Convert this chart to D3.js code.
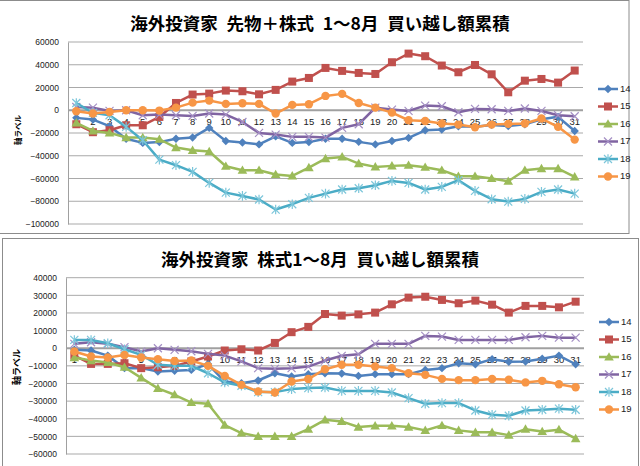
<!DOCTYPE html>
<html><head><meta charset="utf-8">
<script src="https://cdn.jsdelivr.net/npm/d3@7/dist/d3.min.js"></script>
<style>body{margin:0;background:#fff}svg{display:block}</style>
</head><body>
<svg id="c" width="640" height="466"></svg>
<script>
// ---------- data ----------
const days = d3.range(1, 32).map(String);
const seriesNames = ["14", "15", "16", "17", "18", "19"];
const seriesColors = ["#4F81BD", "#C0504D", "#9BBB59", "#8064A2", "#4BACC6", "#F79646"];
const markerColors = ["#4F81BD", "#C0504D", "#9BBB59", "#A48FC4", "#7CC6DA", "#F79646"];
const markerTypes = ["diamond", "square", "triangle", "x", "star", "circle"];

const titleTop = "海外投資家\u2002先物＋株式\u20021～8月\u2002買い越し額累積";
const titleBottom = "海外投資家\u2002株式1～8月\u2002買い越し額累積";
const axisTitle = "軸ラベル";

const ticksTop = [60000, 40000, 20000, 0, -20000, -40000, -60000, -80000, -100000];
const ticksBottom = [40000, 30000, 20000, 10000, 0, -10000, -20000, -30000, -40000, -50000, -60000];

// 先物＋株式
const top14 = [-6700,-8200,-14000,-25000,-28700,-28000,-25000,-24000,-15500,-27000,-28400,-30000,-23000,-28700,-28000,-25000,-25000,-27800,-30000,-27000,-24300,-17600,-17000,-14000,-14600,-12900,-13800,-12300,-8000,-5800,-18300];
const top15 = [-12300,-19300,-17600,-13200,-13200,-5900,6400,13800,14600,17300,16700,14000,17900,25200,28400,37200,34600,32800,31900,42200,49800,47500,39300,33400,39800,31600,15800,26000,27500,24300,34900];
const top16 = [-11100,-18200,-19900,-24000,-24000,-25500,-32800,-35200,-36300,-49200,-52700,-52700,-56500,-57700,-50400,-42500,-41000,-46900,-49800,-48900,-48300,-50100,-52700,-58000,-58000,-60000,-62400,-52700,-51300,-51300,-58600];
const top17 = [2900,2300,-600,0,-4400,-3800,-4400,-5000,-2900,-3800,-10300,-19900,-21400,-23400,-23400,-24000,-15500,-12300,2300,600,-600,4100,3500,-1800,1200,900,-600,1500,-600,-4400,-5300];
const top18 = [6400,-2300,-4400,-14600,-26400,-43400,-48300,-54200,-63900,-72400,-75300,-78500,-87300,-82600,-77000,-73300,-69700,-68600,-65900,-62100,-63900,-69700,-67400,-61500,-70900,-78200,-80300,-77900,-71800,-69700,-73300];
const top19 = [-900,-2900,-1500,0,0,-300,2300,6700,8500,5600,6200,5600,-2900,4700,5300,12600,14400,6400,2300,-2100,-8800,-9400,-11700,-12600,-14900,-12600,-12000,-11700,-7300,-14600,-25800];

// 株式
const bot14 = [-900,-1300,-4200,-11300,-11300,-13200,-12800,-12300,-9000,-18900,-19800,-18300,-14200,-16000,-14700,-14200,-14300,-15700,-14700,-14700,-14700,-12300,-11300,-8500,-9100,-6200,-7700,-7500,-6000,-4200,-9100];
const bot15 = [-4200,-8900,-8900,-8500,-11300,-10800,-10000,-7500,-4700,-1300,-600,-1300,3000,9100,12100,19400,18500,19200,20200,24900,28700,29200,27400,25500,27000,24700,20200,24000,24000,23200,26400];
const bot16 = [-5300,-7000,-8100,-10800,-16800,-22800,-26400,-30800,-31500,-43600,-48100,-50000,-50000,-50000,-45900,-40600,-41500,-44700,-44000,-44000,-44700,-46600,-43800,-46600,-47700,-47700,-49300,-45900,-47200,-46200,-51300];
const bot17 = [2500,3400,2500,600,-1900,0,-900,-1700,-3200,-4200,-7500,-11300,-11700,-11300,-10400,-7000,-4300,-3400,2500,2500,2500,7000,6600,4700,4700,4700,4700,6200,7000,6000,6000];
const bot18 = [4700,4700,2800,-600,-3800,-9400,-10000,-10000,-14200,-19400,-21300,-24900,-24900,-23200,-22600,-22300,-24200,-24200,-24200,-25100,-28300,-31500,-31100,-31100,-35300,-37700,-38300,-35300,-34900,-34300,-34900];
const bot19 = [-1900,-4700,-5300,-3800,-5300,-6200,-7200,-7000,-10000,-15700,-20800,-24500,-25100,-18900,-17500,-11900,-9400,-9400,-10400,-11300,-14200,-15100,-17400,-18100,-18100,-17500,-17900,-19400,-18500,-20400,-22100];

const topSeries = [top14, top15, top16, top17, top18, top19];
const botSeries = [bot14, bot15, bot16, bot17, bot18, bot19];

// ---------- drawing ----------
const svg = d3.select("#c");
const numFont = "'Liberation Sans', Arial, sans-serif";
const jpFont = "'Noto Sans CJK JP', sans-serif";

function drawMarker(g, type, x, y, color) {
  if (type === "diamond") {
    g.append("path").attr("d", `M${x},${y-4.2}L${x+4.2},${y}L${x},${y+4.2}L${x-4.2},${y}Z`).attr("fill", color);
  } else if (type === "square") {
    g.append("rect").attr("x", x-4).attr("y", y-4).attr("width", 8).attr("height", 8).attr("fill", color);
  } else if (type === "triangle") {
    g.append("path").attr("d", `M${x},${y-4.8}L${x+4.8},${y+3.6}L${x-4.8},${y+3.6}Z`).attr("fill", color);
  } else if (type === "circle") {
    g.append("circle").attr("cx", x).attr("cy", y).attr("r", 4.2).attr("fill", color);
  } else if (type === "x") {
    g.append("path").attr("d", `M${x-4},${y-4}L${x+4},${y+4}M${x-4},${y+4}L${x+4},${y-4}`)
      .attr("stroke", color).attr("stroke-width", 1.2).attr("fill", "none");
  } else if (type === "star") {
    g.append("path").attr("d", `M${x-4},${y-4}L${x+4},${y+4}M${x-4},${y+4}L${x+4},${y-4}M${x},${y-4.8}L${x},${y+4.8}`)
      .attr("stroke", color).attr("stroke-width", 1.2).attr("fill", "none");
  }
}

function drawChart(cfg) {
  const g = svg.append("g");
  // frame
  g.append("rect").attr("x", cfg.frame[0]).attr("y", cfg.frame[1]).attr("width", cfg.frame[2]).attr("height", cfg.frame[3])
    .attr("fill", "#fff").attr("stroke", "#8c8c8c").attr("stroke-width", 1);

  // title
  g.append("text").attr("x", cfg.titleX).attr("y", cfg.titleY).attr("text-anchor", "middle")
    .attr("font-family", jpFont).attr("font-weight", "bold").attr("font-size", 17.5).attr("fill", "#000")
    .text(cfg.title);

  const x = d3.scaleBand().domain(days).range([cfg.left, cfg.right]);
  const cx = d => x(d) + x.bandwidth() / 2;
  const y = d3.scaleLinear().domain(cfg.domain).range([cfg.bottom, cfg.top]);

  // gridlines
  g.append("g").selectAll("line").data(cfg.ticks.filter(t => t !== 0)).join("line")
    .attr("x1", cfg.left).attr("x2", cfg.right).attr("y1", d => y(d)).attr("y2", d => y(d))
    .attr("stroke", "#a9a9a9").attr("stroke-width", 1);

  // y axis
  const ya = g.append("g").attr("transform", `translate(${cfg.left},0)`)
    .call(d3.axisLeft(y).tickValues(cfg.ticks).tickSize(0).tickPadding(cfg.tickPad).tickFormat(d3.format("d")));
  ya.select(".domain").attr("stroke", "#a0a0a0");
  ya.selectAll("text").attr("font-family", numFont).attr("font-size", 8.5).attr("fill", "#222");

  // axis title
  g.append("text").attr("transform", `translate(${cfg.axTitleX},${cfg.axTitleY}) rotate(-90)`)
    .attr("text-anchor", "middle").attr("dominant-baseline", "middle")
    .attr("font-family", jpFont).attr("font-weight", "bold").attr("font-size", cfg.axTitleSize).attr("fill", "#000")
    .text(axisTitle);

  // zero (category) axis
  g.append("line").attr("x1", cfg.left).attr("x2", cfg.right).attr("y1", y(0)).attr("y2", y(0))
    .attr("stroke", "#a0a0a0").attr("stroke-width", 2);
  const xa = g.append("g").attr("transform", `translate(0,${y(0)})`)
    .call(d3.axisBottom(x).tickSize(0).tickPadding(8));
  xa.select(".domain").remove();
  xa.selectAll("text").attr("font-family", numFont).attr("font-size", 9.5).attr("fill", "#222");

  // series
  const line = d3.line().x((d, i) => cx(days[i])).y(d => y(d));
  cfg.series.forEach((vals, si) => {
    const sg = g.append("g");
    sg.append("path").datum(vals).attr("d", line).attr("fill", "none")
      .attr("stroke", seriesColors[si]).attr("stroke-width", 2.5).attr("stroke-linejoin", "round");
    vals.forEach((v, i) => drawMarker(sg, markerTypes[si], cx(days[i]), y(v), markerColors[si]));
  });

  // legend
  const lg = g.append("g");
  seriesNames.forEach((name, si) => {
    const ly = cfg.legendY + si * 17.5;
    lg.append("line").attr("x1", cfg.legendX).attr("x2", cfg.legendX + 20).attr("y1", ly).attr("y2", ly)
      .attr("stroke", seriesColors[si]).attr("stroke-width", 2.5);
    drawMarker(lg, markerTypes[si], cfg.legendX + 10, ly, markerColors[si]);
    lg.append("text").attr("x", cfg.legendX + 22).attr("y", ly).attr("dominant-baseline", "middle")
      .attr("font-family", numFont).attr("font-size", 9.5).attr("fill", "#222").text(name);
  });
}

drawChart({
  frame: [-1, 0.5, 630, 233], title: titleTop, titleX: 320, titleY: 30,
  left: 68, right: 583, top: 42, bottom: 224, domain: [-100000, 60000], ticks: ticksTop, tickPad: 9,
  axTitleX: 19, axTitleY: 130, axTitleSize: 7.5,
  series: topSeries, legendX: 598, legendY: 89
});
drawChart({
  frame: [2.5, 238.5, 636, 230], title: titleBottom, titleX: 320, titleY: 266,
  left: 66, right: 584, top: 277.7, bottom: 454, domain: [-60000, 40000], ticks: ticksBottom, tickPad: 9,
  axTitleX: 18, axTitleY: 367, axTitleSize: 9,
  series: botSeries, legendX: 599, legendY: 322
});
</script>
</body></html>
